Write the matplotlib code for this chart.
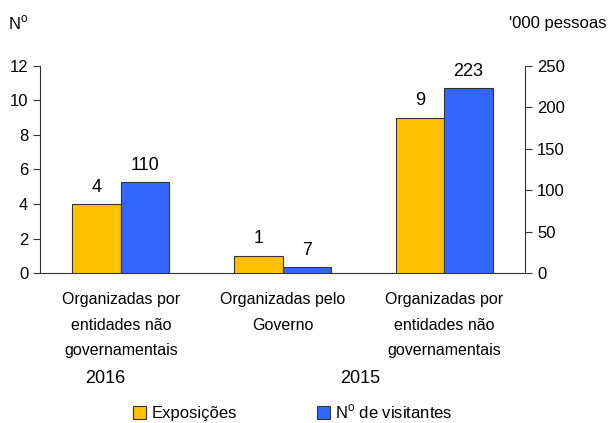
import matplotlib.pyplot as plt
import numpy as np

plt.rcParams['font.family'] = ['Liberation Sans', 'DejaVu Sans']

categorias = ["Organizadas por\nentidades não\ngovernamentais",
              "Organizadas pelo\nGoverno",
              "Organizadas por\nentidades não\ngovernamentais"]
exposicoes = [4, 1, 9]
visitantes = [110, 7, 223]   # '000 pessoas
anos = ["2016", "2015"]

laranja = '#FFC000'
azul = '#3366FF'

fig = plt.figure(figsize=(6.10, 4.23), dpi=100)
ax = fig.add_axes([0.0656, 0.3546, 0.7954, 0.4894])
ax2 = ax.twinx()

x = np.arange(len(categorias))
w = 0.3

b1 = ax.bar(x - w/2, exposicoes, width=w, color=laranja, edgecolor='#333333', linewidth=0.8, zorder=3)
b2 = ax2.bar(x + w/2, visitantes, width=w, color=azul, edgecolor='#333333', linewidth=0.8, zorder=3)

ax.set_xlim(-0.5, 2.5)
ax.set_ylim(0, 12)
ax2.set_ylim(0, 250)
ax.set_yticks(np.arange(0, 13, 2))
ax2.set_yticks(np.arange(0, 251, 50))

for a in (ax, ax2):
    a.spines['top'].set_visible(False)
    a.tick_params(labelsize=12, length=5, width=0.8, color='#333333')
ax.spines['left'].set_color('#333333')
ax2.spines['right'].set_color('#333333')
ax.spines['bottom'].set_color('#333333')
ax2.spines['left'].set_visible(False)
ax2.spines['bottom'].set_visible(False)
ax.spines['right'].set_visible(False)

ax.set_xticks(x)
ax.set_xticklabels(categorias, fontsize=11.5, linespacing=1.85)
ax.tick_params(axis='x', length=0, pad=14)

for xi, v in zip(x, exposicoes):
    ax.annotate(str(v), (xi - w/2, v), xytext=(0, 6), textcoords='offset points',
                ha='center', va='bottom', fontsize=13)
for xi, v in zip(x, visitantes):
    ax2.annotate(str(v), (xi + w/2, v), xytext=(0, 6), textcoords='offset points',
                 ha='center', va='bottom', fontsize=13)

fig.text(0.03, 0.945, "N$^{\\mathregular{o}}$", fontsize=12, ha='center', va='center')
fig.text(0.995, 0.945, "'000 pessoas", fontsize=12, ha='right', va='center')

fig.text(105/610, 1 - 378/423, anos[0], fontsize=13, ha='center', va='center')
fig.text(360/610, 1 - 378/423, anos[1], fontsize=13, ha='center', va='center')

leg = fig.legend([b1, b2], ["Exposições", "N$^{\\mathregular{o}}$ de visitantes"],
                 loc='center', bbox_to_anchor=(0.48, 1 - 412/423), ncol=2, frameon=False,
                 fontsize=12, handlelength=0.8, handleheight=0.8, handletextpad=0.3,
                 columnspacing=4.8)

fig.savefig("out.png", dpi=100)
